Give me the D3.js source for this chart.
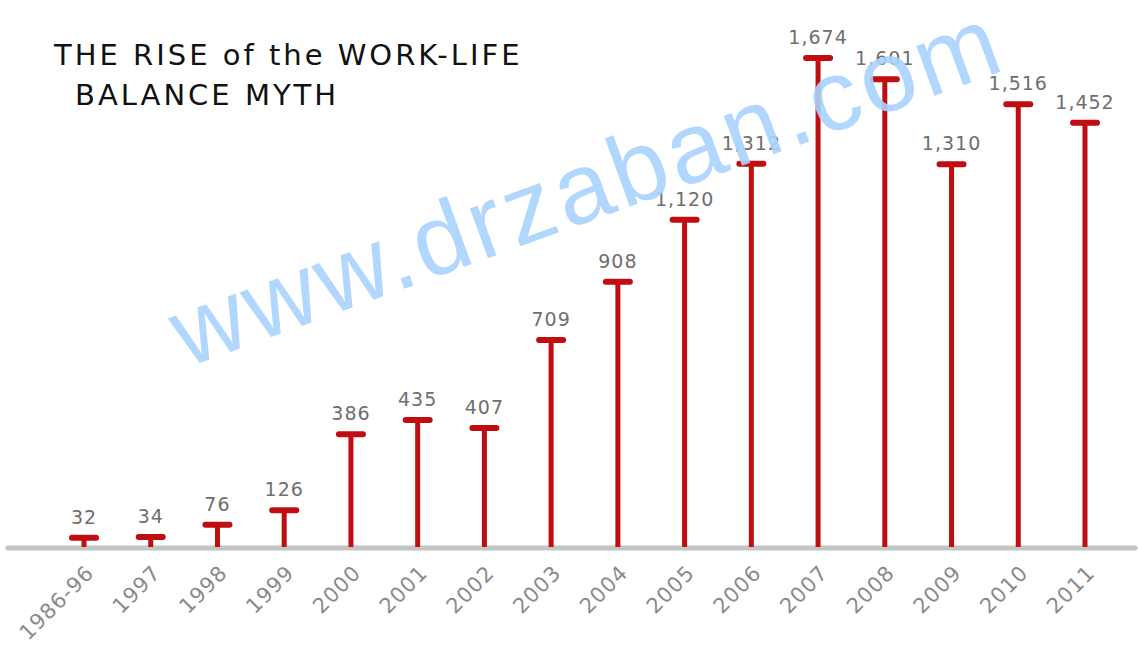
<!DOCTYPE html>
<html>
<head>
<meta charset="utf-8">
<script src="https://cdn.jsdelivr.net/npm/d3@7"></script>
<style>
  body { margin: 0; background: #fff; }
  svg { display: block; }
</style>
</head>
<body>
<div id="chart"></div>
<script>
'use strict';

// values
var years = ['1986-96', '1997', '1998', '1999', '2000', '2001', '2002', '2003',
             '2004', '2005', '2006', '2007', '2008', '2009', '2010', '2011'];
var counts = [32, 34, 76, 126, 386, 435, 407, 709, 908, 1120, 1312, 1674, 1601, 1310, 1516, 1452];
var titleLines = ['THE RISE of the WORK-LIFE', 'BALANCE MYTH'];
var watermark = 'www.drzaban.com';

function makeChart(containerSelector) {
  var width = 1138;
  var height = 649;
  var baseY = 547;
  var red = '#c00d12';

  var data = years.map(function(y, i) { return {year: y, value: counts[i]}; });

  var svg = d3.select(containerSelector)
    .append('svg')
    .attr('width', width)
    .attr('height', height);

  var x = d3.scalePoint()
    .domain(years)
    .range([84, 1085]);

  var y = d3.scaleLinear()
    .domain([0, 1674])
    .range([baseY, 58]);

  // baseline
  svg.append('line')
    .attr('x1', 8)
    .attr('x2', 1135)
    .attr('y1', baseY + 1)
    .attr('y2', baseY + 1)
    .attr('stroke', '#c4c4c4')
    .attr('stroke-width', 5)
    .attr('stroke-linecap', 'round');

  var bar = svg.selectAll('.bar')
    .data(data)
    .enter().append('g')
    .attr('class', 'bar');

  bar.append('line')
    .attr('x1', function(d) { return x(d.year); })
    .attr('x2', function(d) { return x(d.year); })
    .attr('y1', baseY)
    .attr('y2', function(d) { return y(d.value); })
    .attr('stroke', red)
    .attr('stroke-width', 5);

  bar.append('line')
    .attr('x1', function(d) { return x(d.year) - 12; })
    .attr('x2', function(d) { return x(d.year) + 12; })
    .attr('y1', function(d) { return y(d.value); })
    .attr('y2', function(d) { return y(d.value); })
    .attr('stroke', red)
    .attr('stroke-width', 6)
    .attr('stroke-linecap', 'round');

  bar.append('text')
    .attr('x', function(d) { return x(d.year); })
    .attr('y', function(d) { return y(d.value) - 14; })
    .attr('text-anchor', 'middle')
    .attr('fill', '#6e6e6e')
    .style('font-family', 'DejaVu Sans')
    .style('font-size', '19px')
    .style('letter-spacing', '1px')
    .text(function(d) { return d3.format(',')(d.value); });

  // rotated year labels
  svg.selectAll('.year')
    .data(data)
    .enter().append('text')
    .attr('class', 'year')
    .attr('transform', function(d) {
      return 'translate(' + (x(d.year) + 6) + ',' + (baseY + 22) + ') rotate(-45)';
    })
    .attr('text-anchor', 'end')
    .attr('dy', '0.35em')
    .attr('fill', '#8a8a8a')
    .style('font-family', 'DejaVu Sans')
    .style('font-size', '21px')
    .style('letter-spacing', '1px')
    .text(function(d) { return d.year; });

  // title
  svg.selectAll('.title')
    .data(titleLines)
    .enter().append('text')
    .attr('class', 'title')
    .attr('x', function(d, i) { return i === 0 ? 54 : 75; })
    .attr('y', function(d, i) { return 65 + i * 40; })
    .attr('fill', '#111')
    .style('font-family', 'DejaVu Sans')
    .style('font-size', '29px')
    .style('letter-spacing', '3px')
    .text(function(d) { return d; });

  // watermark on top
  svg.append('text')
    .attr('transform', 'translate(186,368) rotate(-20)')
    .attr('fill', '#a9d3ff')
    .attr('opacity', 0.9)
    .style('font-family', 'Liberation Sans')
    .style('font-size', '100px')
    .style('letter-spacing', '4px')
    .text(watermark);
}

makeChart('#chart');
</script>
</body>
</html>
